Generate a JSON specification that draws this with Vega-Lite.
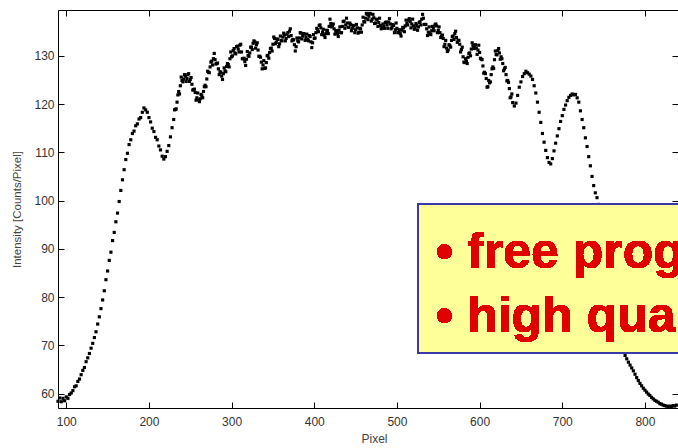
{
  "$schema": "https://vega.github.io/schema/vega-lite/v6.json",
  "width": 620,
  "height": 398,
  "autosize": {"type": "none"},
  "padding": {"left": 58, "top": 10, "right": 0, "bottom": 40},
  "background": "white",
  "config": {
    "view": {"stroke": null},
    "axis": {
      "grid": false,
      "domainColor": "#000000",
      "domainWidth": 1,
      "tickColor": "#000000",
      "tickWidth": 1,
      "labelFont": "Liberation Sans",
      "titleFont": "Liberation Sans",
      "labelFontSize": 12,
      "titleFontSize": 12,
      "labelColor": "#333333",
      "titleColor": "#444444",
      "titleFontWeight": "normal"
    }
  },
  "data": {"values": [
    {"pixel":90,"intensity":58.4},{"pixel":92,"intensity":59.1},{"pixel":94,"intensity":58.3},{"pixel":96,"intensity":59.0},{"pixel":98,"intensity":58.5},
    {"pixel":100,"intensity":59.3},{"pixel":102,"intensity":59.0},{"pixel":104,"intensity":59.8},{"pixel":106,"intensity":60.1},{"pixel":108,"intensity":60.6},
    {"pixel":110,"intensity":61.4},{"pixel":112,"intensity":61.6},{"pixel":114,"intensity":62.5},{"pixel":116,"intensity":63.0},{"pixel":118,"intensity":63.9},
    {"pixel":120,"intensity":64.8},{"pixel":122,"intensity":65.4},{"pixel":124,"intensity":66.6},{"pixel":126,"intensity":67.4},{"pixel":128,"intensity":68.3},
    {"pixel":130,"intensity":69.4},{"pixel":132,"intensity":70.4},{"pixel":134,"intensity":71.6},{"pixel":136,"intensity":72.8},{"pixel":138,"intensity":74.4},
    {"pixel":140,"intensity":75.9},{"pixel":142,"intensity":77.6},{"pixel":144,"intensity":79.4},{"pixel":146,"intensity":81.3},{"pixel":148,"intensity":83.6},
    {"pixel":150,"intensity":85.4},{"pixel":152,"intensity":87.6},{"pixel":154,"intensity":89.3},{"pixel":156,"intensity":91.7},{"pixel":158,"intensity":93.4},
    {"pixel":160,"intensity":95.6},{"pixel":162,"intensity":97.4},{"pixel":164,"intensity":99.8},{"pixel":166,"intensity":102.1},{"pixel":168,"intensity":104.3},
    {"pixel":170,"intensity":106.4},{"pixel":172,"intensity":108.5},{"pixel":174,"intensity":109.8},{"pixel":176,"intensity":111.6},{"pixel":178,"intensity":112.6},
    {"pixel":180,"intensity":113.9},{"pixel":182,"intensity":114.4},{"pixel":184,"intensity":115.5},{"pixel":186,"intensity":115.9},{"pixel":188,"intensity":116.9},
    {"pixel":190,"intensity":117.2},{"pixel":192,"intensity":118.3},{"pixel":194,"intensity":119.2},{"pixel":196,"intensity":118.8},{"pixel":198,"intensity":118.3},
    {"pixel":200,"intensity":117.2},{"pixel":202,"intensity":116.3},{"pixel":204,"intensity":115.0},{"pixel":206,"intensity":114.3},{"pixel":208,"intensity":113.1},
    {"pixel":210,"intensity":112.6},{"pixel":212,"intensity":111.3},{"pixel":214,"intensity":110.5},{"pixel":216,"intensity":109.2},{"pixel":218,"intensity":108.6},
    {"pixel":220,"intensity":109.1},{"pixel":222,"intensity":110.2},{"pixel":224,"intensity":111.4},{"pixel":226,"intensity":113.2},{"pixel":228,"intensity":115.1},
    {"pixel":230,"intensity":116.8},{"pixel":232,"intensity":118.9},{"pixel":234,"intensity":120.4},{"pixel":236,"intensity":122.6},{"pixel":238,"intensity":123.8},
    {"pixel":240,"intensity":124.9},{"pixel":242,"intensity":125.2},{"pixel":244,"intensity":125.8},{"pixel":246,"intensity":125.3},{"pixel":248,"intensity":126.3},
    {"pixel":250,"intensity":125.1},{"pixel":252,"intensity":124.1},{"pixel":254,"intensity":123.0},{"pixel":256,"intensity":122.4},{"pixel":258,"intensity":121.3},
    {"pixel":260,"intensity":120.9},{"pixel":262,"intensity":121.1},{"pixel":264,"intensity":121.7},{"pixel":266,"intensity":122.6},{"pixel":268,"intensity":123.9},
    {"pixel":270,"intensity":125.2},{"pixel":272,"intensity":126.6},{"pixel":274,"intensity":127.7},{"pixel":276,"intensity":128.9},{"pixel":278,"intensity":129.4},
    {"pixel":280,"intensity":129.2},{"pixel":282,"intensity":128.4},{"pixel":284,"intensity":127.3},{"pixel":286,"intensity":126.7},{"pixel":288,"intensity":125.8},
    {"pixel":290,"intensity":126.3},{"pixel":292,"intensity":126.9},{"pixel":294,"intensity":127.8},{"pixel":296,"intensity":128.2},{"pixel":298,"intensity":129.4},
    {"pixel":300,"intensity":129.8},{"pixel":302,"intensity":131.1},{"pixel":304,"intensity":130.6},{"pixel":306,"intensity":131.9},{"pixel":308,"intensity":131.4},
    {"pixel":310,"intensity":132.2},{"pixel":312,"intensity":130.8},{"pixel":314,"intensity":129.4},{"pixel":316,"intensity":128.8},{"pixel":318,"intensity":129.3},
    {"pixel":320,"intensity":130.1},{"pixel":322,"intensity":130.6},{"pixel":324,"intensity":131.8},{"pixel":326,"intensity":132.6},{"pixel":328,"intensity":132.9},
    {"pixel":330,"intensity":132.3},{"pixel":332,"intensity":131.2},{"pixel":334,"intensity":129.9},{"pixel":336,"intensity":128.7},{"pixel":338,"intensity":128.1},
    {"pixel":340,"intensity":127.4},{"pixel":342,"intensity":128.6},{"pixel":344,"intensity":130.1},{"pixel":346,"intensity":130.7},{"pixel":348,"intensity":131.6},
    {"pixel":350,"intensity":132.4},{"pixel":352,"intensity":133.6},{"pixel":354,"intensity":132.8},{"pixel":356,"intensity":133.4},{"pixel":358,"intensity":132.5},
    {"pixel":360,"intensity":133.2},{"pixel":362,"intensity":133.9},{"pixel":364,"intensity":134.3},{"pixel":366,"intensity":133.6},{"pixel":368,"intensity":134.8},
    {"pixel":370,"intensity":135.1},{"pixel":372,"intensity":134.2},{"pixel":374,"intensity":133.4},{"pixel":376,"intensity":132.3},{"pixel":378,"intensity":131.9},
    {"pixel":380,"intensity":133.1},{"pixel":382,"intensity":133.7},{"pixel":384,"intensity":134.7},{"pixel":386,"intensity":134.1},{"pixel":388,"intensity":134.5},
    {"pixel":390,"intensity":133.8},{"pixel":392,"intensity":133.4},{"pixel":394,"intensity":134.2},{"pixel":396,"intensity":132.9},{"pixel":398,"intensity":132.7},
    {"pixel":400,"intensity":133.6},{"pixel":402,"intensity":134.8},{"pixel":404,"intensity":135.4},{"pixel":406,"intensity":136.3},{"pixel":408,"intensity":135.8},
    {"pixel":410,"intensity":134.9},{"pixel":412,"intensity":134.3},{"pixel":414,"intensity":134.6},{"pixel":416,"intensity":135.2},{"pixel":418,"intensity":136.1},
    {"pixel":420,"intensity":136.7},{"pixel":422,"intensity":136.3},{"pixel":424,"intensity":135.6},{"pixel":426,"intensity":135.1},{"pixel":428,"intensity":134.6},
    {"pixel":430,"intensity":135.3},{"pixel":432,"intensity":134.8},{"pixel":434,"intensity":136.1},{"pixel":436,"intensity":137.2},{"pixel":438,"intensity":136.4},
    {"pixel":440,"intensity":136.8},{"pixel":442,"intensity":135.9},{"pixel":444,"intensity":136.5},{"pixel":446,"intensity":135.7},{"pixel":448,"intensity":136.2},
    {"pixel":450,"intensity":135.4},{"pixel":452,"intensity":135.8},{"pixel":454,"intensity":134.9},{"pixel":456,"intensity":135.6},{"pixel":458,"intensity":136.4},
    {"pixel":460,"intensity":137.1},{"pixel":462,"intensity":137.8},{"pixel":464,"intensity":138.6},{"pixel":466,"intensity":138.2},{"pixel":468,"intensity":138.7},
    {"pixel":470,"intensity":137.6},{"pixel":472,"intensity":137.9},{"pixel":474,"intensity":136.8},{"pixel":476,"intensity":137.5},{"pixel":478,"intensity":136.9},
    {"pixel":480,"intensity":136.3},{"pixel":482,"intensity":135.8},{"pixel":484,"intensity":136.2},{"pixel":486,"intensity":136.9},{"pixel":488,"intensity":136.4},
    {"pixel":490,"intensity":137.0},{"pixel":492,"intensity":136.6},{"pixel":494,"intensity":135.9},{"pixel":496,"intensity":136.3},{"pixel":498,"intensity":135.4},
    {"pixel":500,"intensity":135.7},{"pixel":502,"intensity":134.9},{"pixel":504,"intensity":134.6},{"pixel":506,"intensity":135.3},{"pixel":508,"intensity":135.8},
    {"pixel":510,"intensity":136.2},{"pixel":512,"intensity":136.7},{"pixel":514,"intensity":137.4},{"pixel":516,"intensity":137.1},{"pixel":518,"intensity":136.6},
    {"pixel":520,"intensity":136.2},{"pixel":522,"intensity":135.8},{"pixel":524,"intensity":136.3},{"pixel":526,"intensity":136.0},{"pixel":528,"intensity":137.1},
    {"pixel":530,"intensity":137.6},{"pixel":532,"intensity":137.8},{"pixel":534,"intensity":136.5},{"pixel":536,"intensity":135.6},{"pixel":538,"intensity":134.9},
    {"pixel":540,"intensity":134.6},{"pixel":542,"intensity":135.2},{"pixel":544,"intensity":135.8},{"pixel":546,"intensity":136.4},{"pixel":548,"intensity":136.2},
    {"pixel":550,"intensity":135.3},{"pixel":552,"intensity":134.8},{"pixel":554,"intensity":134.1},{"pixel":556,"intensity":133.6},{"pixel":558,"intensity":132.4},
    {"pixel":560,"intensity":131.6},{"pixel":562,"intensity":131.2},{"pixel":564,"intensity":132.1},{"pixel":566,"intensity":133.2},{"pixel":568,"intensity":134.1},
    {"pixel":570,"intensity":134.6},{"pixel":572,"intensity":133.8},{"pixel":574,"intensity":133.2},{"pixel":576,"intensity":132.4},{"pixel":578,"intensity":131.3},
    {"pixel":580,"intensity":129.8},{"pixel":582,"intensity":128.6},{"pixel":584,"intensity":128.9},{"pixel":586,"intensity":129.7},{"pixel":588,"intensity":130.6},
    {"pixel":590,"intensity":131.4},{"pixel":592,"intensity":132.1},{"pixel":594,"intensity":132.2},{"pixel":596,"intensity":131.6},{"pixel":598,"intensity":131.2},
    {"pixel":600,"intensity":130.7},{"pixel":602,"intensity":129.3},{"pixel":604,"intensity":127.9},{"pixel":606,"intensity":126.6},{"pixel":608,"intensity":125.3},
    {"pixel":610,"intensity":123.6},{"pixel":612,"intensity":124.4},{"pixel":614,"intensity":126.1},{"pixel":616,"intensity":127.7},{"pixel":618,"intensity":129.2},
    {"pixel":620,"intensity":130.3},{"pixel":622,"intensity":131.1},{"pixel":624,"intensity":130.6},{"pixel":626,"intensity":129.8},{"pixel":628,"intensity":128.4},
    {"pixel":630,"intensity":127.3},{"pixel":632,"intensity":126.1},{"pixel":634,"intensity":124.9},{"pixel":636,"intensity":123.2},{"pixel":638,"intensity":121.5},
    {"pixel":640,"intensity":120.3},{"pixel":642,"intensity":119.6},{"pixel":644,"intensity":120.2},{"pixel":646,"intensity":121.8},{"pixel":648,"intensity":123.5},
    {"pixel":650,"intensity":124.6},{"pixel":652,"intensity":125.7},{"pixel":654,"intensity":126.3},{"pixel":656,"intensity":126.8},{"pixel":658,"intensity":126.5},
    {"pixel":660,"intensity":126.2},{"pixel":662,"intensity":125.8},{"pixel":664,"intensity":125.1},{"pixel":666,"intensity":123.8},{"pixel":668,"intensity":122.3},
    {"pixel":670,"intensity":120.4},{"pixel":672,"intensity":118.3},{"pixel":674,"intensity":116.2},{"pixel":676,"intensity":113.9},{"pixel":678,"intensity":112.1},
    {"pixel":680,"intensity":110.4},{"pixel":682,"intensity":108.9},{"pixel":684,"intensity":107.9},{"pixel":686,"intensity":107.6},{"pixel":688,"intensity":108.7},
    {"pixel":690,"intensity":110.3},{"pixel":692,"intensity":111.9},{"pixel":694,"intensity":113.4},{"pixel":696,"intensity":114.9},{"pixel":698,"intensity":116.4},
    {"pixel":700,"intensity":117.6},{"pixel":702,"intensity":118.9},{"pixel":704,"intensity":119.8},{"pixel":706,"intensity":120.7},{"pixel":708,"intensity":121.4},
    {"pixel":710,"intensity":121.8},{"pixel":712,"intensity":122.1},{"pixel":714,"intensity":121.9},{"pixel":716,"intensity":122.0},{"pixel":718,"intensity":121.3},
    {"pixel":720,"intensity":120.4},{"pixel":722,"intensity":118.6},{"pixel":724,"intensity":116.8},{"pixel":726,"intensity":115.1},{"pixel":728,"intensity":113.0},
    {"pixel":730,"intensity":111.2},{"pixel":732,"intensity":109.1},{"pixel":734,"intensity":107.2},{"pixel":736,"intensity":105.0},{"pixel":738,"intensity":103.1},
    {"pixel":740,"intensity":101.6},{"pixel":742,"intensity":100.6},{"pixel":744,"intensity":99.2},{"pixel":746,"intensity":97.1},{"pixel":748,"intensity":94.6},
    {"pixel":750,"intensity":92.1},{"pixel":752,"intensity":89.6},{"pixel":754,"intensity":87.1},{"pixel":756,"intensity":84.6},{"pixel":758,"intensity":82.2},
    {"pixel":760,"intensity":79.8},{"pixel":762,"intensity":77.6},{"pixel":764,"intensity":75.7},{"pixel":766,"intensity":74.0},{"pixel":768,"intensity":72.4},
    {"pixel":770,"intensity":71.0},{"pixel":772,"intensity":69.8},{"pixel":774,"intensity":68.7},{"pixel":776,"intensity":67.9},{"pixel":778,"intensity":67.2},
    {"pixel":780,"intensity":66.5},{"pixel":782,"intensity":65.9},{"pixel":784,"intensity":65.3},{"pixel":786,"intensity":64.7},{"pixel":788,"intensity":64.0},
    {"pixel":790,"intensity":63.3},{"pixel":792,"intensity":62.7},{"pixel":794,"intensity":62.1},{"pixel":796,"intensity":61.6},{"pixel":798,"intensity":61.1},
    {"pixel":800,"intensity":60.7},{"pixel":802,"intensity":60.3},{"pixel":804,"intensity":59.9},{"pixel":806,"intensity":59.6},{"pixel":808,"intensity":59.2},
    {"pixel":810,"intensity":58.9},{"pixel":812,"intensity":58.6},{"pixel":814,"intensity":58.4},{"pixel":816,"intensity":58.2},{"pixel":818,"intensity":57.9},
    {"pixel":820,"intensity":57.8},{"pixel":822,"intensity":57.6},{"pixel":824,"intensity":57.5},{"pixel":826,"intensity":57.4},{"pixel":828,"intensity":57.3},
    {"pixel":830,"intensity":57.4},{"pixel":832,"intensity":57.3},{"pixel":834,"intensity":57.5},{"pixel":836,"intensity":57.4},{"pixel":838,"intensity":57.6},
    {"pixel":231,"intensity":118.8},{"pixel":233,"intensity":119.0},{"pixel":235,"intensity":121.9},{"pixel":237,"intensity":122.1},{"pixel":239,"intensity":125.6},
    {"pixel":241,"intensity":124.6},{"pixel":243,"intensity":126.1},{"pixel":245,"intensity":124.7},{"pixel":247,"intensity":126.1},{"pixel":249,"intensity":124.7},
    {"pixel":251,"intensity":125.5},{"pixel":253,"intensity":122.9},{"pixel":255,"intensity":123.1},{"pixel":257,"intensity":120.8},{"pixel":259,"intensity":122.3},
    {"pixel":261,"intensity":120.5},{"pixel":263,"intensity":122.0},{"pixel":265,"intensity":121.3},{"pixel":267,"intensity":123.6},{"pixel":269,"intensity":123.6},
    {"pixel":271,"intensity":126.8},{"pixel":273,"intensity":126.5},{"pixel":275,"intensity":128.7},{"pixel":277,"intensity":128.1},{"pixel":279,"intensity":130.5},
    {"pixel":281,"intensity":128.3},{"pixel":283,"intensity":128.5},{"pixel":285,"intensity":126.1},{"pixel":287,"intensity":126.6},{"pixel":289,"intensity":125.1},
    {"pixel":291,"intensity":127.5},{"pixel":293,"intensity":126.7},{"pixel":295,"intensity":128.4},{"pixel":297,"intensity":127.7},{"pixel":299,"intensity":130.8},
    {"pixel":301,"intensity":130.0},{"pixel":303,"intensity":131.5},{"pixel":305,"intensity":130.4},{"pixel":307,"intensity":132.0},{"pixel":309,"intensity":130.8},
    {"pixel":311,"intensity":132.4},{"pixel":313,"intensity":129.4},{"pixel":315,"intensity":129.5},{"pixel":317,"intensity":128.0},{"pixel":319,"intensity":130.9},
    {"pixel":321,"intensity":129.9},{"pixel":323,"intensity":131.8},{"pixel":325,"intensity":131.3},{"pixel":327,"intensity":133.1},{"pixel":329,"intensity":131.6},
    {"pixel":331,"intensity":132.7},{"pixel":333,"intensity":129.9},{"pixel":335,"intensity":129.7},{"pixel":337,"intensity":127.3},{"pixel":339,"intensity":129.0},
    {"pixel":341,"intensity":127.5},{"pixel":343,"intensity":130.0},{"pixel":345,"intensity":129.5},{"pixel":347,"intensity":131.5},{"pixel":349,"intensity":131.0},
    {"pixel":351,"intensity":133.9},{"pixel":353,"intensity":132.5},{"pixel":355,"intensity":133.5},{"pixel":357,"intensity":131.9},{"pixel":359,"intensity":134.1},
    {"pixel":361,"intensity":133.1},{"pixel":363,"intensity":134.7},{"pixel":365,"intensity":133.1},{"pixel":367,"intensity":134.5},{"pixel":369,"intensity":134.0},
    {"pixel":371,"intensity":135.6},{"pixel":373,"intensity":133.1},{"pixel":375,"intensity":133.3},{"pixel":377,"intensity":131.0},{"pixel":379,"intensity":133.7},
    {"pixel":381,"intensity":132.9},{"pixel":383,"intensity":134.8},{"pixel":385,"intensity":133.5},{"pixel":387,"intensity":134.6},{"pixel":389,"intensity":133.2},
    {"pixel":391,"intensity":134.5},{"pixel":393,"intensity":133.1},{"pixel":395,"intensity":134.0},{"pixel":397,"intensity":131.7},{"pixel":399,"intensity":134.4},
    {"pixel":401,"intensity":133.7},{"pixel":403,"intensity":135.7},{"pixel":405,"intensity":135.0},{"pixel":407,"intensity":136.4},{"pixel":409,"intensity":134.4},
    {"pixel":411,"intensity":135.5},{"pixel":413,"intensity":133.8},{"pixel":415,"intensity":135.3},{"pixel":417,"intensity":134.6},{"pixel":419,"intensity":137.6},
    {"pixel":421,"intensity":136.0},{"pixel":423,"intensity":136.6},{"pixel":425,"intensity":134.5},{"pixel":427,"intensity":135.2},{"pixel":429,"intensity":134.0},
    {"pixel":431,"intensity":136.0},{"pixel":433,"intensity":134.8},{"pixel":435,"intensity":137.1},{"pixel":437,"intensity":135.7},{"pixel":439,"intensity":137.8},
    {"pixel":441,"intensity":135.9},{"pixel":443,"intensity":136.8},{"pixel":445,"intensity":135.2},{"pixel":447,"intensity":136.3},{"pixel":449,"intensity":134.8},
    {"pixel":451,"intensity":136.5},{"pixel":453,"intensity":134.7},{"pixel":455,"intensity":135.7},{"pixel":457,"intensity":134.9},{"pixel":459,"intensity":138.0},
    {"pixel":461,"intensity":137.0},{"pixel":463,"intensity":138.8},{"pixel":465,"intensity":137.5},{"pixel":467,"intensity":138.8},{"pixel":469,"intensity":137.2},
    {"pixel":471,"intensity":138.6},{"pixel":473,"intensity":136.7},{"pixel":475,"intensity":137.6},{"pixel":477,"intensity":136.1},{"pixel":479,"intensity":137.8},
    {"pixel":481,"intensity":135.6},{"pixel":483,"intensity":136.6},{"pixel":485,"intensity":135.7},{"pixel":487,"intensity":137.0},{"pixel":489,"intensity":135.7},
    {"pixel":491,"intensity":137.7},{"pixel":493,"intensity":135.6},{"pixel":495,"intensity":136.5},{"pixel":497,"intensity":134.8},{"pixel":499,"intensity":136.8},
    {"pixel":501,"intensity":134.8},{"pixel":503,"intensity":135.4},{"pixel":505,"intensity":134.1},{"pixel":507,"intensity":135.9},{"pixel":509,"intensity":135.0},
    {"pixel":511,"intensity":137.4},{"pixel":513,"intensity":136.4},{"pixel":515,"intensity":137.7},{"pixel":517,"intensity":135.8},{"pixel":519,"intensity":137.6},
    {"pixel":521,"intensity":135.5},{"pixel":523,"intensity":136.7},{"pixel":525,"intensity":135.3},{"pixel":527,"intensity":136.9},{"pixel":529,"intensity":136.4},
    {"pixel":531,"intensity":138.6},{"pixel":533,"intensity":136.5},{"pixel":535,"intensity":136.5},{"pixel":537,"intensity":134.2},{"pixel":539,"intensity":136.0},
    {"pixel":541,"intensity":134.4},{"pixel":543,"intensity":136.1},{"pixel":545,"intensity":135.2},{"pixel":547,"intensity":136.6},{"pixel":549,"intensity":134.8},
    {"pixel":551,"intensity":136.0},{"pixel":553,"intensity":133.8},{"pixel":555,"intensity":134.3},{"pixel":557,"intensity":131.9},{"pixel":559,"intensity":133.2},
    {"pixel":561,"intensity":130.9},{"pixel":563,"intensity":132.3},{"pixel":565,"intensity":131.8},{"pixel":567,"intensity":134.0},{"pixel":569,"intensity":133.4},
    {"pixel":571,"intensity":135.1},{"pixel":573,"intensity":132.8},{"pixel":575,"intensity":133.2},{"pixel":577,"intensity":130.8},{"pixel":579,"intensity":131.8},
    {"pixel":581,"intensity":128.7},{"pixel":583,"intensity":129.4},{"pixel":585,"intensity":128.4},{"pixel":587,"intensity":130.5},{"pixel":589,"intensity":130.0},
    {"pixel":591,"intensity":132.7},{"pixel":593,"intensity":131.5},{"pixel":595,"intensity":132.3},{"pixel":597,"intensity":130.3},{"pixel":599,"intensity":132.2},
    {"pixel":601,"intensity":129.5},{"pixel":603,"intensity":129.2},{"pixel":605,"intensity":126.4},{"pixel":607,"intensity":126.3},{"pixel":609,"intensity":123.5},
    {"pixel":611,"intensity":124.9},{"pixel":613,"intensity":124.6},{"pixel":615,"intensity":127.3},{"pixel":617,"intensity":127.4},{"pixel":619,"intensity":131.0},
    {"pixel":621,"intensity":130.2},{"pixel":623,"intensity":131.5},{"pixel":625,"intensity":129.3},{"pixel":627,"intensity":129.4},{"pixel":629,"intensity":126.9},
    {"pixel":631,"intensity":127.6},{"pixel":633,"intensity":124.8},{"pixel":635,"intensity":124.5},{"pixel":637,"intensity":121.3},{"pixel":639,"intensity":122.1}
  ]},
  "resolve": {"axis": {"x": "independent", "y": "independent"}},
  "layer": [
    {
      "mark": {"type": "point", "shape": "square", "filled": true, "color": "#000000", "size": 10, "opacity": 1},
      "encoding": {
        "x": {"field": "pixel", "type": "quantitative",
              "scale": {"domain": [90, 840], "nice": false, "zero": false},
              "axis": {"orient": "bottom", "values": [100, 200, 300, 400, 500, 600, 700, 800], "tickSize": -6, "labelPadding": 14, "title": "Pixel", "titleY": 25, "titleX": 316}},
        "y": {"field": "intensity", "type": "quantitative",
              "scale": {"domain": [57, 139.5], "nice": false, "zero": false},
              "axis": {"orient": "left", "values": [60, 70, 80, 90, 100, 110, 120, 130], "tickSize": -6, "labelPadding": 10, "title": "Intensity [Counts/Pixel]", "titleX": -36, "titleFontSize": 11.5}}
      }
    },
    {
      "mark": {"type": "point", "opacity": 0},
      "encoding": {
        "x": {"field": "pixel", "type": "quantitative",
              "axis": {"orient": "top", "values": [100, 200, 300, 400, 500, 600, 700, 800], "tickSize": -6, "labels": false, "title": null}},
        "y": {"field": "intensity", "type": "quantitative",
              "axis": {"orient": "right", "values": [60, 70, 80, 90, 100, 110, 120, 130], "tickSize": -6, "labels": false, "domain": false, "title": null}}
      }
    },
    {
      "mark": {"type": "rect", "fill": "#FFFF99", "stroke": "#3A3AA8", "strokeWidth": 2},
      "encoding": {
        "x": {"datum": 525.5, "type": "quantitative", "axis": null},
        "x2": {"datum": 880},
        "y": {"datum": 99.3, "type": "quantitative", "axis": null},
        "y2": {"datum": 68.4}
      }
    },
    {
      "mark": {"type": "text", "align": "left", "baseline": "alphabetic", "font": "Liberation Sans", "fontWeight": "bold", "fontSize": 50, "color": "#E00000"},
      "encoding": {
        "x": {"datum": 547, "type": "quantitative", "axis": null},
        "y": {"datum": 86.0, "type": "quantitative", "axis": null},
        "text": {"value": "• free program"}
      }
    },
    {
      "mark": {"type": "text", "align": "left", "baseline": "alphabetic", "font": "Liberation Sans", "fontWeight": "bold", "fontSize": 50, "color": "#E00000"},
      "encoding": {
        "x": {"datum": 547, "type": "quantitative", "axis": null},
        "y": {"datum": 72.75, "type": "quantitative", "axis": null},
        "text": {"value": "• high quality"}
      }
    }
  ]
}
